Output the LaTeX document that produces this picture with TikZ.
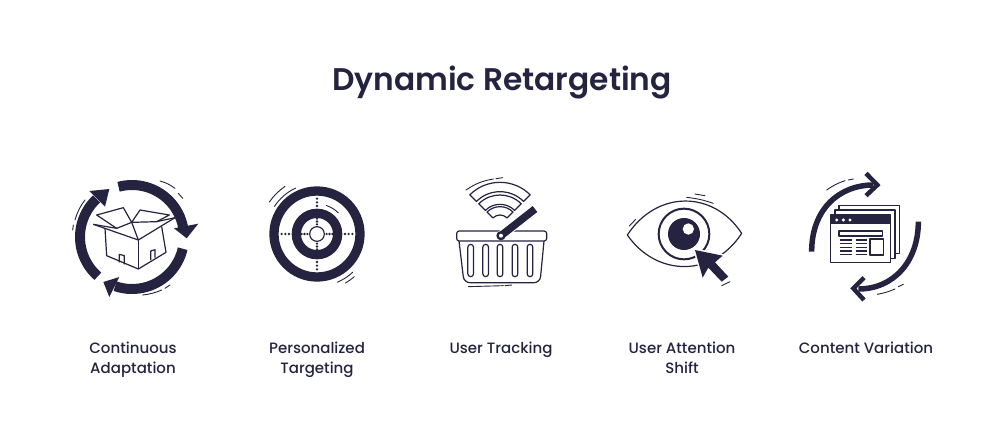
\documentclass[tikz,border=0pt]{standalone}
\usepackage{fontspec}
\setmainfont{Poppins}[UprightFont=* Medium,BoldFont=* SemiBold]
\usepackage{tikz}
\definecolor{navy}{HTML}{25233F}
\tikzset{
  thinline/.style={draw=navy, line width=1.2pt, line join=round},
  motion/.style={draw=navy, line width=0.9pt, line cap=round},
  ringarrow/.style={draw=navy, line width=10pt},
  sweep/.style={draw=navy, line width=5.5pt},
  chevron/.style={draw=navy, line width=4.5pt, line join=miter},
  caption/.style={text=navy, font=\fontsize{15}{20}\selectfont, align=center}
}

\begin{document}
\begin{tikzpicture}[x=1pt, y=-1pt]
\useasboundingbox (0,0) rectangle (1000,445);
% Drawing title
\node[text=navy, font=\bfseries\fontsize{31.3}{36}\selectfont] (title) at (502,82) {Dynamic Retargeting};

% Drawing captions
\node[caption] (adaptation) at (133,359) {\strut Continuous\\\strut Adaptation};
\node[caption] (targeting) at (317,359) {\strut Personalized\\\strut Targeting};
\node[caption] (tracking) at (501,349) {\strut User Tracking};
\node[caption] (shift) at (682,359) {\strut User Attention\\\strut Shift};
\node[caption] (variation) at (866,349) {\strut Content Variation};

% Drawing box with ring of arrows
\begin{scope}[shift={(60,165)}, scale=1/3]
\draw[ringarrow] (216,216)+(255:156) arc (255:350:156);
\draw[ringarrow] (216,216)+(13:156) arc (13:109:156);
\draw[ringarrow] (216,216)+(131:156) arc (131:227:156);
\fill[navy] (342,190) -- (415,176) -- (380,220) -- cycle;
\fill[navy] (178,336) -- (148,396) -- (130,351) -- cycle;
\fill[navy] (88,78) -- (148,72) -- (135,125) -- cycle;
\draw[thinline] (135,190) -- (140,272) -- (235,312) -- (318,262) -- (305,185);
\draw[thinline] (235,225) -- (235,312);
\draw[thinline] (100,178) -- (235,225) -- (345,158);
\draw[thinline] (100,178) -- (170,190) -- (215,172) -- (290,170) -- (345,158);
\draw[thinline] (170,190) -- (110,150) -- (190,128) -- (215,172) -- (240,135) -- (328,150) -- (290,170);
\draw[thinline] (215,172) -- (235,225);
\draw[thinline] (178,292) -- (178,268) -- (193,272) -- (193,298);
\draw[thinline] (272,285) -- (272,258) -- (285,254) -- (285,278);
\draw[motion] (300,48) to[bend left=10] (345,70);
\draw[motion] (355,85) to[bend left=5] (368,100);
\draw[motion] (75,105) to[bend right=10] (45,165);
\draw[motion] (40,180) -- (38,195);
\draw[motion] (248,390) to[bend right=8] (305,375);
\draw[motion] (315,370) -- (330,360);
\end{scope}

% Drawing target
\begin{scope}[shift={(60,165)}, scale=1/3]
\draw[navy, line width=9.3pt] (771,207) circle (129);
\draw[navy, line width=9.3pt] (771,207) circle (62);
\draw[thinline] (771,207) circle (22);
\foreach \a in {0,90,180,270} {
  \foreach \r in {29,37.5,46,84,95,106} {
    \fill[navy] (771,207)+(\a:\r) circle (3.8);
  }
}
\draw[motion] (771,207)+(213:152) arc (213:245:152);
\draw[motion] (771,207)+(214:172) arc (214:236:172);
\draw[motion] (771,207)+(47:157) arc (47:67:157);
\draw[motion] (771,207)+(49:170) arc (49:60:170);
\draw[motion] (771,207)+(-72:90) arc (-72:-45:90);
\end{scope}

% Drawing basket with signal
\begin{scope}[shift={(440,165)}, scale=1/3]
\foreach \o/\i in {128/100, 90/62, 55/30} {
  \draw[thinline] ([shift={(225:\o)}]180,180) arc (225:315:\o) -- ([shift={(315:\i)}]180,180) arc (315:225:\i) -- cycle;
}
\draw[thinline, rounded corners=6pt] (57,228) -- (72,353) -- (300,353) -- (312,228);
\draw[thinline, fill=white, rounded corners=2.5pt] (50,198) rectangle (320,228);
\foreach \x in {92,137,180,225,270} {
  \draw[thinline, rounded corners=2.8pt] (\x-8.5,238) rectangle (\x+8.5,335);
}
\draw[white, line width=9.5pt] (183,212) -- (285,132);
\draw[navy, line width=7.5pt] (183,212) -- (285,132);
\fill[navy] (183,212) circle (14);
\fill[white] (183,212) circle (6);
\draw[motion] (78,75) to[bend left=12] (160,42);
\draw[motion] (168,41) -- (188,38);
\draw[motion] (85,365) -- (190,362);
\draw[motion] (195,362) -- (215,360);
\end{scope}

% Drawing eye with cursor
\begin{scope}[shift={(440,165)}, scale=1/3]
\draw[thinline] (562,210) .. controls (650,75) and (820,75) .. (905,205) .. controls (820,337) and (650,337) .. (562,210);
\draw[navy, line width=2pt] (732,207) circle (76);
\fill[navy] (732,207) circle (48);
\fill[white] (745,192) circle (17);
\draw[white, line width=3pt, line join=round] (765,255) -- (848,272) -- (825,292) -- (865,335) -- (845,350) -- (805,308) -- (788,338) -- cycle;
\fill[navy] (765,255) -- (848,272) -- (825,292) -- (865,335) -- (845,350) -- (805,308) -- (788,338) -- cycle;
\draw[motion] (740,97) to[bend left=6] (820,115);
\draw[motion] (765,87) -- (795,92);
\draw[motion] (568,183) -- (587,163);
\draw[motion] (845,362) -- (870,350);
\end{scope}

% Drawing windows with sweep arrows
\begin{scope}[shift={(790,165)}, scale=1/3]
\draw[sweep] (65,260) .. controls (65,130) and (150,60) .. (250,60);
\draw[sweep] (385,170) .. controls (385,290) and (310,372) .. (205,372);
\draw[chevron] (228,25) -- (262,60) -- (228,92);
\draw[chevron] (222,338) -- (190,370) -- (222,405);
\draw[thinline, fill=white] (147,122) rectangle (328,265);
\draw[thinline, fill=white] (135,135) rectangle (315,280);
\draw[thinline, fill=white] (122,150) rectangle (302,292);
\fill[navy] (122,150) rectangle (302,178);
\foreach \x in {140,160,180} {
  \fill[white] (\x,165) circle (5);
}
\draw[thinline] (147,198) rectangle (277,213);
\draw[thinline] (240,222) rectangle (280,270);
\foreach \y in {225,235,247,258,268} {
  \draw[thinline] (150,\y) -- (185,\y);
  \draw[thinline] (197,\y) -- (232,\y);
}
\draw[motion] (110,75) to[bend left=8] (165,47);
\draw[motion] (175,45) -- (190,42);
\draw[motion] (262,388) to[bend right=6] (315,372);
\draw[motion] (325,365) -- (340,358);
\end{scope}
\end{tikzpicture}
\end{document}
